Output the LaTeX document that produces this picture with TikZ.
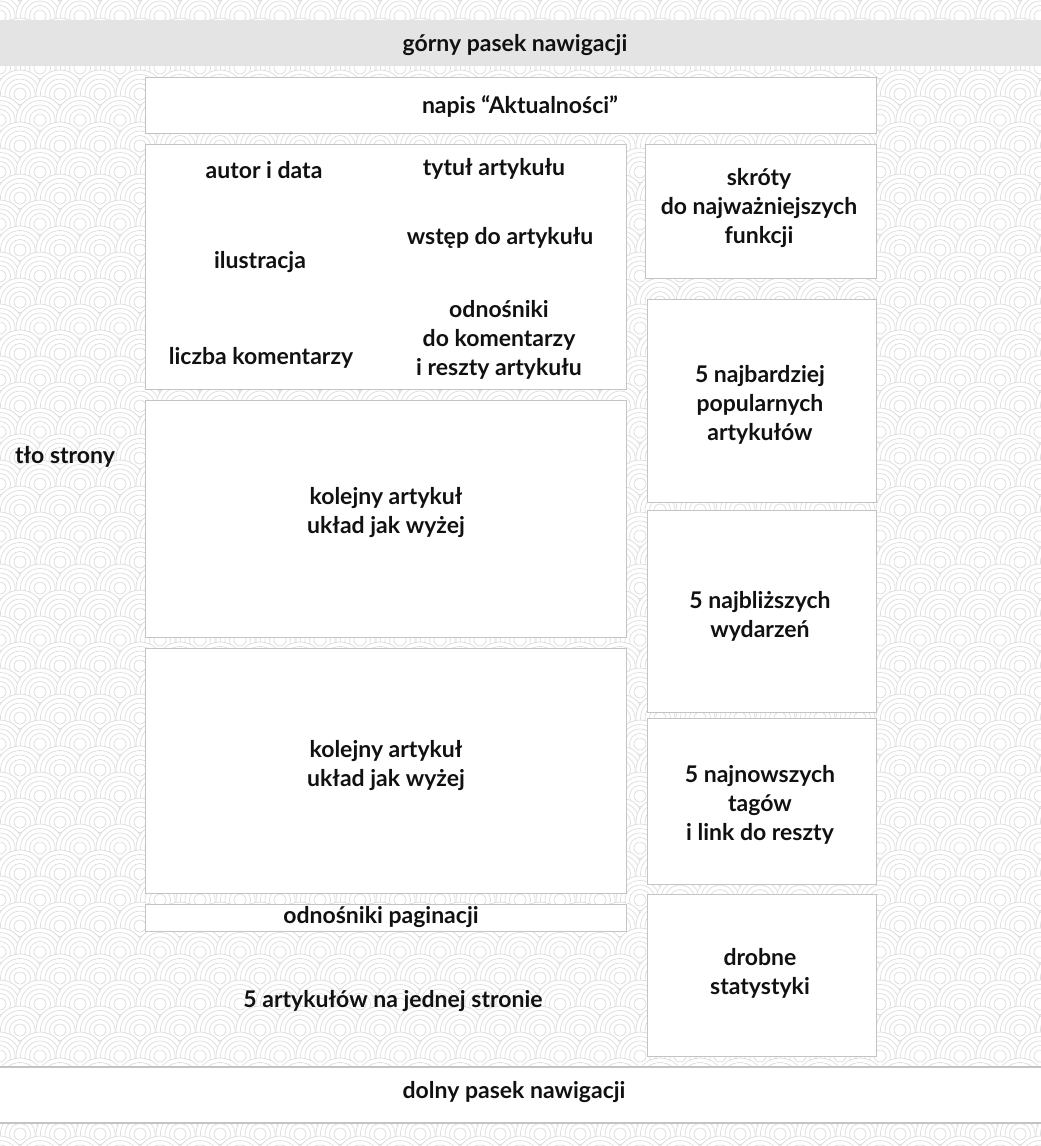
\documentclass[tikz,border=0pt]{standalone}
\usepackage{fontspec}
\setmainfont{Lato}
\definecolor{ringc}{HTML}{D8D8D8}
\definecolor{boxc}{HTML}{C4C4C4}
\definecolor{topc}{HTML}{E4E4E4}
\definecolor{txtc}{HTML}{111111}
\begin{document}
\begin{tikzpicture}[x=1pt,y=-1pt,
  boxst/.style={draw=boxc,line width=1.3pt,fill=white,anchor=north west,inner sep=0pt},
  lbl/.style={text=txtc,align=center,font=\fontsize{23}{29}\selectfont\bfseries,inner sep=0pt}]
\useasboundingbox (0,0) rectangle (1041,1146);
\fill[white] (0,0) rectangle (1041,1146);
\begin{scope}
\clip (0,0) rectangle (1041,1146);
\foreach \j in {0,...,46} {
  \pgfmathsetmacro\yy{\j*26-10}
  \pgfmathsetmacro\off{mod(\j,2)*20}
  \foreach \i in {0,...,27} {
    \pgfmathsetmacro\xx{\i*40+\off-20}
    \fill[white] (\xx,\yy) circle[radius=24pt];
    \draw[ringc,line width=0.6pt] (\xx,\yy) circle[radius=24pt] circle[radius=19.5pt] circle[radius=15pt] circle[radius=10.5pt] circle[radius=6pt];
  }
}
\end{scope}
% bars
\fill[topc] (0,20) rectangle (1041,66);
\node[lbl] (top) at (515,45) {górny pasek nawigacji};
\fill[white] (0,1067) rectangle (1041,1123);
\draw[boxc,line width=1.3pt] (0,1067) -- (1041,1067) (0,1123) -- (1041,1123);
\node[lbl] (bottom) at (514,1092) {dolny pasek nawigacji};
% boxes
\node[boxst,minimum width=731pt,minimum height=56pt] (napis) at (145,77) {};
\node[boxst,minimum width=481pt,minimum height=245pt] (art1) at (145,144) {};
\node[boxst,minimum width=481pt,minimum height=237pt] (art2) at (145,400) {};
\node[boxst,minimum width=481pt,minimum height=245pt] (art3) at (145,648) {};
\node[boxst,minimum width=481pt,minimum height=27pt] (pag) at (145,904) {};
\node[boxst,minimum width=231pt,minimum height=134pt] (skr) at (645,144) {};
\node[boxst,minimum width=229pt,minimum height=203pt] (pop) at (647,299) {};
\node[boxst,minimum width=229pt,minimum height=202pt] (wyd) at (647,510) {};
\node[boxst,minimum width=229pt,minimum height=166pt] (tag) at (647,718) {};
\node[boxst,minimum width=229pt,minimum height=162pt] (stat) at (647,894) {};
% labels
\node[lbl] (lnapis) at (520,106) {napis “Aktualności”};
\node[lbl] (lautor) at (264,170) {autor i data};
\node[lbl] (ltytul) at (494,169) {tytuł artykułu};
\node[lbl] (lwstep) at (500,238) {wstęp do artykułu};
\node[lbl] (lilu) at (260,262) {ilustracja};
\node[lbl] (lodn) at (499,340) {odnośniki\\do komentarzy\\i reszty artykułu};
\node[lbl] (lliczba) at (261,358) {liczba komentarzy};
\node[lbl] (lkol1) at (386,513) {kolejny artykuł\\układ jak wyżej};
\node[lbl] (lkol2) at (386,766) {kolejny artykuł\\układ jak wyżej};
\node[lbl] (lpag) at (381,917) {odnośniki paginacji};
\node[lbl] (l5art) at (393,1001) {5 artykułów na jednej stronie};
\node[lbl] (ltlo) at (65,457) {tło strony};
\node[lbl] (lskr) at (759,208) {skróty\\do najważniejszych\\funkcji};
\node[lbl] (lpop) at (760,405) {5 najbardziej\\popularnych\\artykułów};
\node[lbl] (lwyd) at (760,616) {5 najbliższych\\wydarzeń};
\node[lbl] (ltag) at (760,805) {5 najnowszych\\tagów\\i link do reszty};
\node[lbl] (lstat) at (760,973) {drobne\\statystyki};
\end{tikzpicture}
\end{document}
